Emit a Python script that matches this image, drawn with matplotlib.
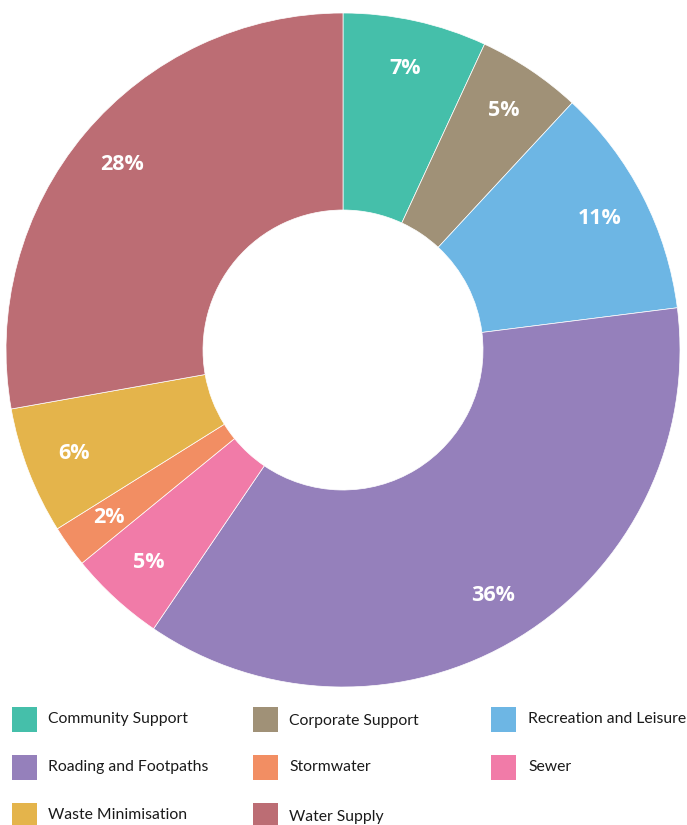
import matplotlib.pyplot as plt
from matplotlib.patches import Rectangle

# data (clockwise from 12 o'clock)
categories = ['Community Support', 'Corporate Support', 'Recreation and Leisure',
              'Roading and Footpaths', 'Sewer', 'Stormwater', 'Waste Minimisation',
              'Water Supply']
shares = [6.9, 5.0, 11.1, 36.5, 4.6, 2.0, 6.1, 27.8]
colors = ['#45BFAA', '#A09177', '#6DB6E4', '#9580BB', '#F17BA8', '#F28E63',
          '#E4B44B', '#BC6D74']

# legend order as shown (row-wise, 3 columns)
legend_order = ['Community Support', 'Corporate Support', 'Recreation and Leisure',
                'Roading and Footpaths', 'Stormwater', 'Sewer',
                'Waste Minimisation', 'Water Supply']

W, H = 687, 825
fig = plt.figure(figsize=(W / 100, H / 100), dpi=100)

cx, cy, R = 343, 350, 337
ax = fig.add_axes([(cx - R) / W, (H - cy - R) / H, 2 * R / W, 2 * R / H])
wedges, texts, autotexts = ax.pie(
    shares, colors=colors, startangle=90, counterclock=False, radius=1,
    autopct='%.0f%%', pctdistance=0.855,
    wedgeprops=dict(width=1 - 140 / R, edgecolor='white', linewidth=0.5),
    textprops=dict(color='white', fontsize=15.5, fontweight='bold',
                   family=['Open Sans', 'DejaVu Sans']))
ax.set_xlim(-1, 1)
ax.set_ylim(-1, 1)
ax.set_aspect('equal')
ax.axis('off')

# legend drawn by hand in pixel layout
sq_x = [12, 253, 491]
txt_x = [48, 289, 528]
row_y = [719, 767, 815]
cmap = dict(zip(categories, colors))
for i, name in enumerate(legend_order):
    r, c = divmod(i, 3)
    y = row_y[r] + (2 if c == 1 and r != 1 else 0)
    fig.patches.append(Rectangle(((sq_x[c]) / W, (H - row_y[r] - 12.5) / H),
                                 25 / W, 25 / H, transform=fig.transFigure,
                                 facecolor=cmap[name], edgecolor='none'))
    fig.text(txt_x[c] / W, (H - y) / H, name, fontsize=11.3, color='#1a1a1a',
             va='center', ha='left', family=['Lato', 'DejaVu Sans'])

fig.savefig('out.png', dpi=100)
